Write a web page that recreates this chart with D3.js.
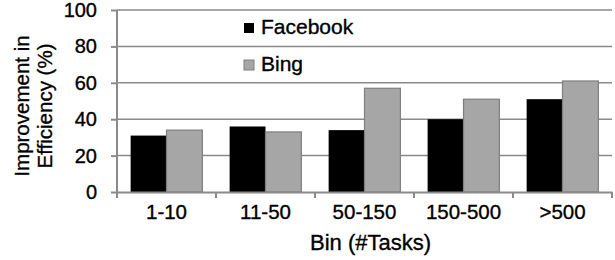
<!DOCTYPE html>
<html>
<head>
<meta charset="utf-8">
<script src="https://cdn.jsdelivr.net/npm/d3@7"></script>
<style>
  body { margin: 0; background: #fff; }
  text { font-family: "Liberation Sans", Arial, sans-serif; fill: #000; stroke: #000; stroke-width: 0.35; }
</style>
</head>
<body>
<div id="chart"></div>
<script>
// data
const bins = ["1-10", "11-50", "50-150", "150-500", ">500"];
const series = ["Facebook", "Bing"];
const facebook = [31, 36, 34, 40, 51];
const bing = [34, 33, 57, 51, 61];
const yTicks = [0, 20, 40, 60, 80, 100];

const w = 615, h = 260;
const margin = {top: 10, right: 3, bottom: 68, left: 117};
const innerW = w - margin.left - margin.right;
const innerH = h - margin.top - margin.bottom;

const svg = d3.select("#chart").append("svg")
    .attr("width", w)
    .attr("height", h);

const g = svg.append("g")
    .attr("transform", `translate(${margin.left},${margin.top})`);

const x = d3.scaleBand().domain(bins).range([0, innerW]);
const xs = d3.scaleBand().domain(series).range([0, x.bandwidth()]).paddingOuter(0.38).paddingInner(0);
const y = d3.scaleLinear().domain([0, 100]).range([innerH, 0]);
const color = {Facebook: "#000000", Bing: "#a6a6a6"};

// gridlines
g.selectAll("line.grid")
    .data(yTicks.filter(d => d > 0))
    .enter()
    .append("line")
    .attr("class", "grid")
    .attr("x1", 0)
    .attr("x2", innerW)
    .attr("y1", d => y(d))
    .attr("y2", d => y(d))
    .attr("stroke", "#8a8a8a")
    .attr("stroke-width", 1.5);

// bars
const rows = bins.map((b, i) => ({bin: b, Facebook: facebook[i], Bing: bing[i]}));
const grp = g.selectAll("g.bin")
    .data(rows)
    .enter()
    .append("g")
    .attr("class", "bin")
    .attr("transform", d => `translate(${x(d.bin)},0)`);

grp.selectAll("rect")
    .data(d => series.map(s => ({s: s, v: d[s]})))
    .enter()
    .append("rect")
    .attr("x", d => xs(d.s))
    .attr("y", d => y(d.v))
    .attr("width", xs.bandwidth())
    .attr("height", d => innerH - y(d.v))
    .attr("fill", d => color[d.s])
    .attr("stroke", d => d.s == "Bing" ? "#7f7f7f" : "none")
    .attr("stroke-width", 1.2);

// y axis
const yAxis = g.append("g")
    .call(d3.axisLeft(y).tickValues(yTicks).tickSize(6).tickPadding(14));
yAxis.select(".domain").attr("stroke", "#8a8a8a").attr("stroke-width", 2).attr("d", `M0,${innerH}V0`);
yAxis.selectAll(".tick line").attr("stroke", "#8a8a8a").attr("stroke-width", 2);
yAxis.selectAll(".tick text").attr("font-size", 20).attr("fill", "#000");

// x axis, ticks sit on category boundaries
const xAxis = g.append("g")
    .attr("transform", `translate(0,${innerH})`)
    .call(d3.axisBottom(x).tickSize(0).tickPadding(12));
xAxis.select(".domain").attr("stroke", "#8a8a8a").attr("stroke-width", 2);
xAxis.selectAll(".tick text").attr("font-size", 20.5).attr("fill", "#000");
xAxis.selectAll("line.sep")
    .data(bins.map(b => x(b)).concat([innerW]))
    .enter()
    .append("line")
    .attr("class", "sep")
    .attr("x1", d => d)
    .attr("x2", d => d)
    .attr("y1", 0)
    .attr("y2", 6)
    .attr("stroke", "#8a8a8a")
    .attr("stroke-width", 2);

// axis titles
svg.append("text")
    .attr("x", margin.left + innerW / 2 + 6)
    .attr("y", 250)
    .attr("text-anchor", "middle")
    .attr("font-size", 22)
    .text("Bin (#Tasks)");

const yt = svg.append("text")
    .attr("transform", `translate(0,${margin.top + innerH / 2 + 5}) rotate(-90)`)
    .attr("text-anchor", "middle")
    .attr("font-size", 20.5);
yt.append("tspan").attr("x", 0).attr("y", 29).text("Improvement in");
yt.append("tspan").attr("x", 0).attr("y", 52).text("Efficiency (%)");

// legend
const legend = svg.selectAll("g.legend")
    .data(series)
    .enter()
    .append("g")
    .attr("class", "legend")
    .attr("transform", (d, i) => `translate(244,${23 + i * 37})`);
legend.append("rect")
    .attr("width", 10)
    .attr("height", 10)
    .attr("fill", d => color[d])
    .attr("stroke", d => d == "Bing" ? "#7f7f7f" : "none")
    .style("stroke-width", 1);
legend.append("text")
    .attr("x", 17)
    .attr("y", 11)
    .attr("font-size", 21)
    .text(d => d);
</script>
</body>
</html>
